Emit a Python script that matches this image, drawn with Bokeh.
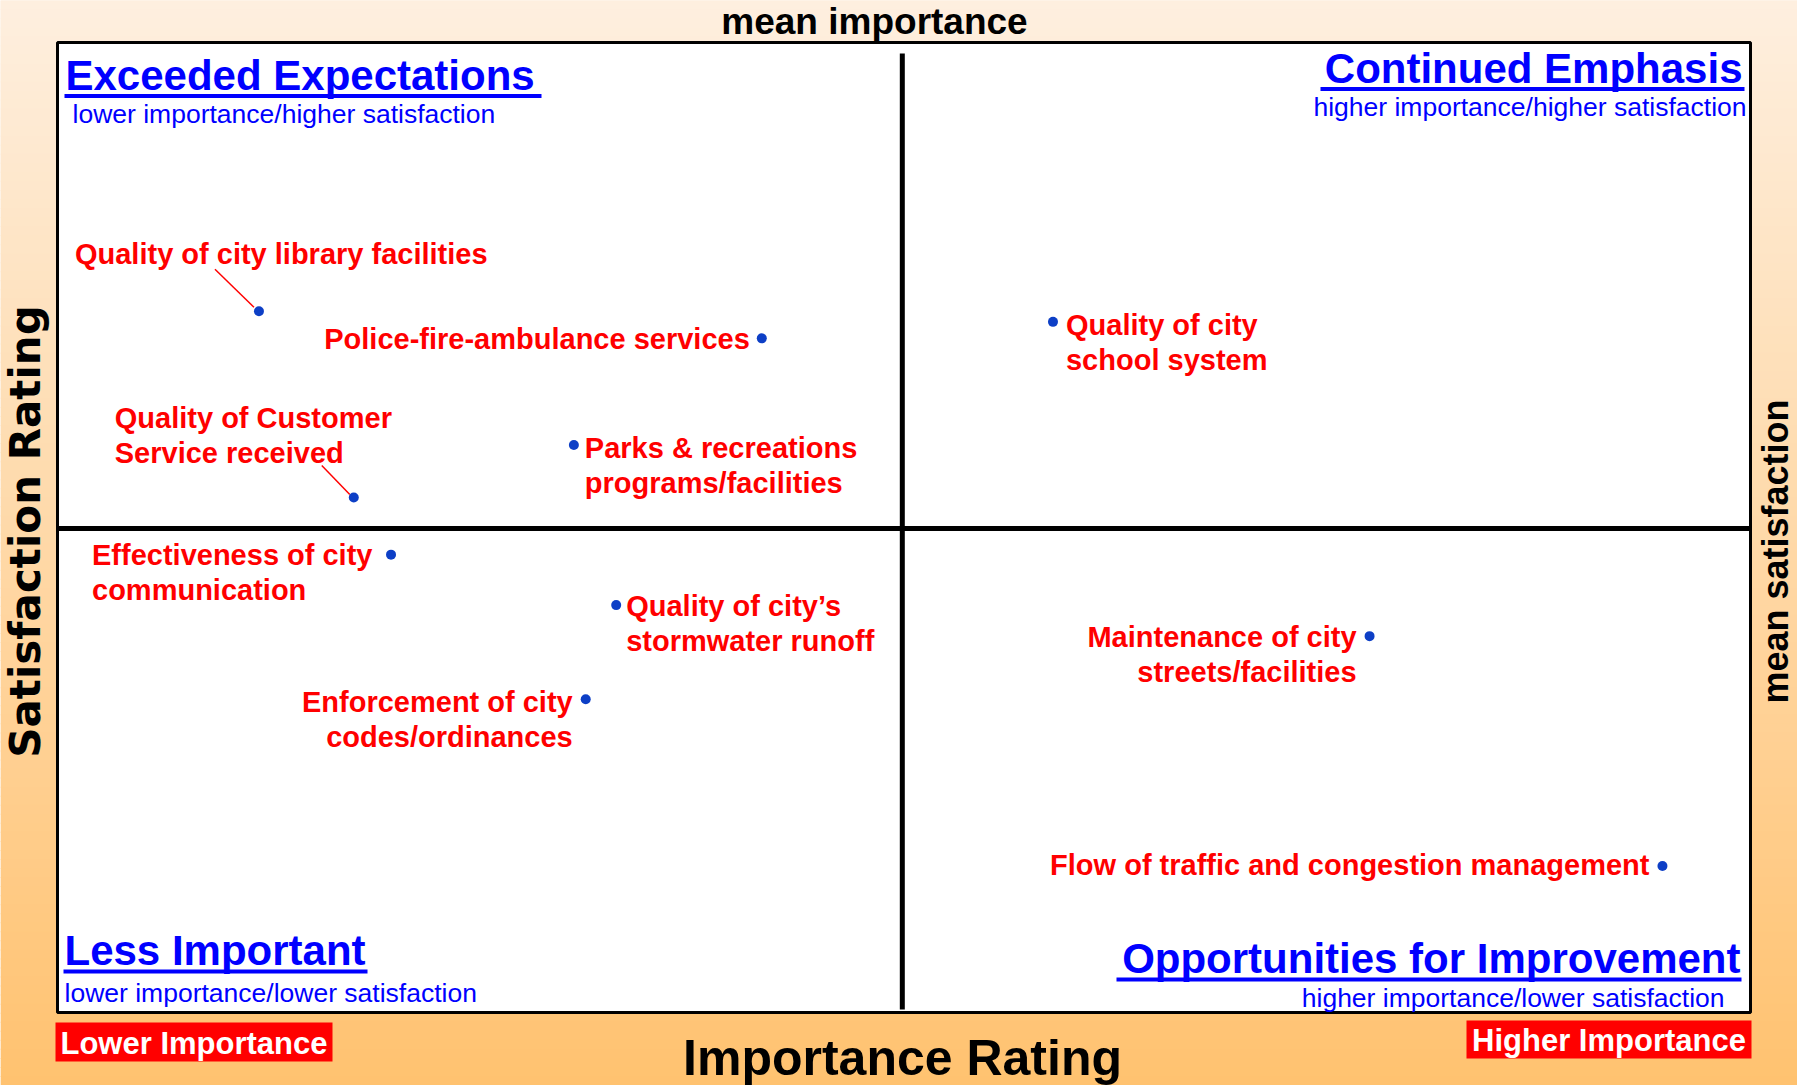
import numpy as np
from bokeh.plotting import figure
from bokeh.models import ColumnDataSource, Range1d
from bokeh.core.properties import value, field
from bokeh.embed import file_html
from bokeh.resources import INLINE

# ---------------- data (0-100 scale inside the quadrant frame) -------------
services = [
    "Quality of city library facilities",
    "Police-fire-ambulance services",
    "Quality of Customer\nService received",
    "Parks & recreations\nprograms/facilities",
    "Quality of city\nschool system",
    "Effectiveness of city\ncommunication",
    "Quality of city\u2019s\nstormwater runoff",
    "Enforcement of city\ncodes/ordinances",
    "Maintenance of city\nstreets/facilities",
    "Flow of traffic and congestion management",
]
importance = [11.9, 41.6, 17.5, 30.5, 58.8, 19.7, 33.0, 31.2, 77.5, 94.8]
satisfaction = [72.3, 69.5, 53.1, 58.5, 71.2, 47.2, 42.0, 32.3, 38.8, 15.1]
mean_importance = 49.9
mean_satisfaction = 49.9

quadrant_titles = ["Exceeded Expectations", "Continued Emphasis",
                   "Less Important", "Opportunities for Improvement"]
quadrant_subtitles = ["lower importance/higher satisfaction", "higher importance/higher satisfaction",
                      "lower importance/lower satisfaction", "higher importance/lower satisfaction"]

# ---------------- layout (pixels) ----------------
label_dx = [-184, -12, -239, 11, 13, -299, 10, -13, -13, -13]
label_dy = [-73, -15, -95, -13, -13, -16, -15, -13, -15, -17]
label_align = ["left", "right", "left", "left", "left", "left", "left", "right", "right", "right"]
leaders = {0: (-44, -42, -5, -4), 2: (-32, -32, -4, -3)}

W, H = 1797, 1085
M = 0
FX0, FX1 = 57, 1750
FY0, FY1 = 42, 1012
kx = (FX1 - FX0) / 100.0
ky = (FY1 - FY0) / 100.0

def px(xp, yp):
    """page pixel -> data coordinates"""
    fx, fy = xp - M, yp - M
    return (fx - FX0) / kx, (FY1 - fy) / ky

x_range = Range1d(-FX0 / kx, 100 + (W - FX1) / kx)
y_range = Range1d(-(H - FY1) / ky, 100 + FY0 / ky)

top_col = np.array([254, 239, 223])
bot_col = np.array([255, 194, 112])

p = figure(width=W, height=H, x_range=x_range, y_range=y_range,
           output_backend="svg", toolbar_location=None,
           x_axis_location=None, y_axis_location=None,
           min_border=0, outline_line_color=None,
           background_fill_color="#FEEFDF", border_fill_color="#FEEFDF")
p.xgrid.visible = False
p.ygrid.visible = False

# gradient background
n = 120
edges = np.linspace(0, H, n + 1)
tops, bots, cols = [], [], []
for i in range(n):
    t = (edges[i] + edges[i + 1]) / 2 / H
    c = (1 - t) * top_col + t * bot_col
    cols.append("#%02x%02x%02x" % tuple(int(round(v)) for v in c))
    tops.append(px(0, edges[i] - 0.5)[1])
    bots.append(px(0, edges[i + 1] + 0.5)[1])
p.quad(left=x_range.start, right=x_range.end, top=tops, bottom=bots,
       fill_color=cols, line_color=None)

# quadrant frame
p.quad(left=0, right=100, bottom=0, top=100, fill_color="white",
       line_color="black", line_width=3)

# mean lines
p.segment(x0=0, x1=100, y0=mean_satisfaction, y1=mean_satisfaction,
          line_color="black", line_width=5)
p.segment(x0=mean_importance, x1=mean_importance,
          y0=px(0, 1009)[1], y1=px(0, 53)[1], line_color="black", line_width=5)

FONT = value("Liberation Sans")

def txt(xp, yp, s, size, color, align="left", baseline="middle",
        bold=True, font=FONT, angle=0):
    x, y = px(xp, yp)
    p.text(x=[x], y=[y], text=[s], text_font=font, text_font_size="%spx" % size,
           text_font_style="bold" if bold else "normal", text_color=color,
           text_align=align, text_baseline=baseline, angle=angle)

def underline(x0p, x1p, yp, color="#0000FF", w=4):
    (x0, y), (x1, _) = px(x0p, yp), px(x1p, yp)
    p.segment(x0=x0, x1=x1, y0=y, y1=y, line_color=color, line_width=w)

BLUE = "#0000FF"
# quadrant titles (y = middle of capitals)
txt(65, 75, quadrant_titles[0], 42, BLUE)
underline(64, 541, 95.5)
txt(72, 113, quadrant_subtitles[0], 26.5, BLUE, bold=False)

txt(1742, 68, quadrant_titles[1], 42, BLUE, align="right")
underline(1320, 1744, 88.5)
txt(1746, 106.5, quadrant_subtitles[1], 26.5, BLUE, align="right", bold=False)

txt(64, 950, quadrant_titles[2], 42, BLUE)
underline(63, 367, 971)
txt(64, 992, quadrant_subtitles[2], 26.5, BLUE, bold=False)

txt(1740, 958, quadrant_titles[3], 42, BLUE, align="right")
underline(1116, 1741, 979)
txt(1724, 997, quadrant_subtitles[3], 26.5, BLUE, align="right", bold=False)

# leader lines
for i, (sx0, sy0, sx1, sy1) in leaders.items():
    p.segment(x0=importance[i] + sx0 / kx, y0=satisfaction[i] - sy0 / ky,
              x1=importance[i] + sx1 / kx, y1=satisfaction[i] - sy1 / ky,
              line_color="#FF0000", line_width=1.5)

# points and labels
src = ColumnDataSource(dict(x=importance, y=satisfaction, text=services,
                            dx=label_dx, dy=label_dy, align=label_align))
p.scatter("x", "y", source=src, size=10, fill_color="#0D3FC6", line_color=None)
p.text("x", "y", text="text", source=src, x_offset="dx", y_offset="dy",
       text_align=field("align"), text_baseline="top", text_line_height=1.09,
       text_font=FONT, text_font_size="29px", text_font_style="bold",
       text_color="#FF0000")

# axis annotations
txt(874, 20.5, "mean importance", 37, "black", align="center")
txt(902, 1057, "Importance Rating", 50, "black", align="center")
txt(25, 531, "Satisfaction Rating", 42, "black", align="center",
    font=value("DejaVu Sans"), angle=np.pi / 2)
txt(1775, 551, "mean satisfaction", 36, "black", align="center", angle=np.pi / 2)

# importance tags
for (x0p, x1p, y0p, y1p, s) in [(55, 332, 1022, 1061, "Lower Importance"),
                                (1466, 1751, 1020, 1058, "Higher Importance")]:
    (l, b), (r, t) = px(x0p, y1p), px(x1p, y0p)
    p.quad(left=l, right=r, bottom=b, top=t, fill_color="#FF0000", line_color=None)
    txt((x0p + x1p) / 2, (y0p + y1p) / 2 + 1, s, 31, "white", align="center")

open("out.html", "w").write(file_html(p, INLINE))
